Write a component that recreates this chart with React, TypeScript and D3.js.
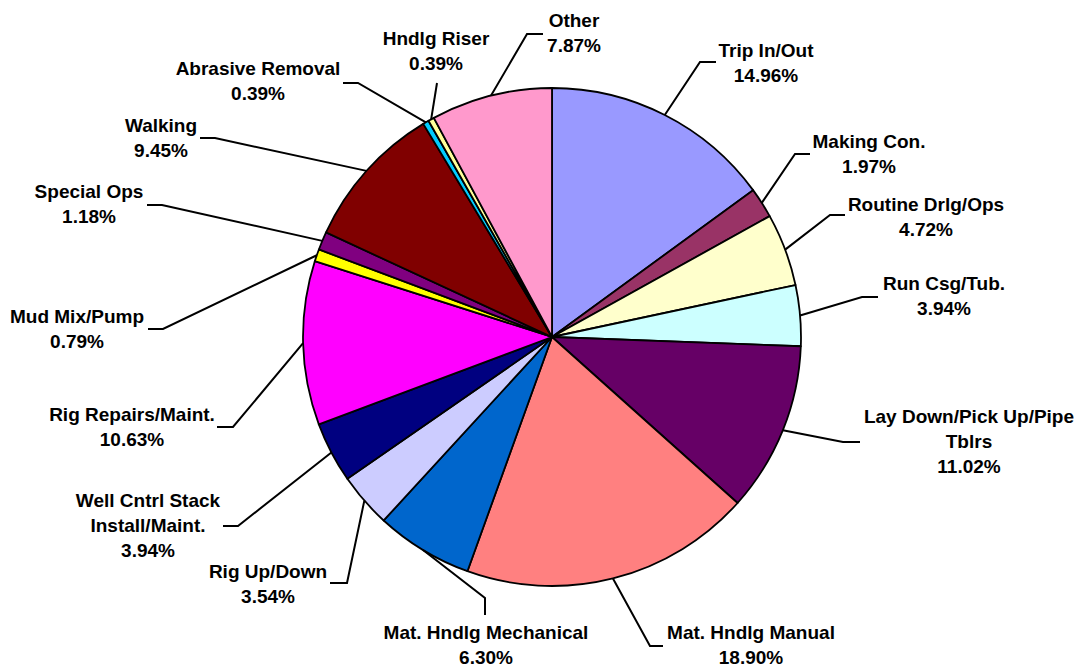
import React from 'react';
import * as d3 from 'd3';

// slice data, clockwise from 12 o'clock
const categories = [
  'Trip In/Out',
  'Making Con.',
  'Routine Drlg/Ops',
  'Run Csg/Tub.',
  'Lay Down/Pick Up/Pipe Tblrs',
  'Mat. Hndlg Manual',
  'Mat. Hndlg Mechanical',
  'Rig Up/Down',
  'Well Cntrl Stack Install/Maint.',
  'Rig Repairs/Maint.',
  'Mud Mix/Pump',
  'Special Ops',
  'Walking',
  'Abrasive Removal',
  'Hndlg Riser',
  'Other',
];
const values = [14.96, 1.97, 4.72, 3.94, 11.02, 18.9, 6.3, 3.54, 3.94, 10.63, 0.79, 1.18, 9.45, 0.39, 0.39, 7.87];
const colors = [
  '#9999FF', '#993366', '#FFFFCC', '#CCFFFF', '#660066', '#FF8080', '#0066CC', '#CCCCFF',
  '#000080', '#FF00FF', '#FFFF00', '#800080', '#800000', '#00CCFF', '#FFFF99', '#FF99CC',
];

// label lines as they wrap in the chart
const labelLines = [
  ['Trip In/Out'],
  ['Making Con.'],
  ['Routine Drlg/Ops'],
  ['Run Csg/Tub.'],
  ['Lay Down/Pick Up/Pipe', 'Tblrs'],
  ['Mat. Hndlg Manual'],
  ['Mat. Hndlg Mechanical'],
  ['Rig Up/Down'],
  ['Well Cntrl Stack', 'Install/Maint.'],
  ['Rig Repairs/Maint.'],
  ['Mud Mix/Pump'],
  ['Special Ops'],
  ['Walking'],
  ['Abrasive Removal'],
  ['Hndlg Riser'],
  ['Other'],
];

// label placement: text centre x, first baseline y, leader bend points
const labelPos = [
  { x: 766, y: 57, bends: [[700, 62], [716, 62]] },
  { x: 869, y: 148, bends: [[795, 154], [810, 154]] },
  { x: 926, y: 211, bends: [[830, 215], [845, 215]] },
  { x: 944, y: 290, bends: [[862, 297], [878, 297]] },
  { x: 969, y: 423, bends: [[843, 442], [860, 442]] },
  { x: 751, y: 639, bends: [[650, 646], [663, 646]] },
  { x: 486, y: 639, bends: [[485, 598], [485, 615]] },
  { x: 268, y: 578, bends: [[347, 583], [330, 583]] },
  { x: 148, y: 507, bends: [[238, 526], [223, 526]] },
  { x: 132, y: 421, bends: [[233, 427], [217, 427]] },
  { x: 77, y: 323, bends: [[163, 329], [148, 329]] },
  { x: 89, y: 198, bends: [[162, 205], [147, 205]] },
  { x: 161, y: 132, bends: [[215, 138], [200, 138]] },
  { x: 258, y: 75, bends: [[358, 83], [343, 83]] },
  { x: 436, y: 45, bends: [[437, 83]] },
  { x: 574, y: 27, bends: [[527, 34], [543, 34]] },
];

const WIDTH = 1079;
const HEIGHT = 667;
const CX = 552;
const CY = 337;
const R = 249;
const LINE_H = 25;

const PieChart: React.FC = () => {
  const data = categories.map((c, i) => ({ name: c, value: values[i], color: colors[i] }));
  const pie = d3.pie<{ name: string; value: number; color: string }>()
    .value(d => d.value)
    .sort(null);
  const arcs = pie(data);
  const arc = d3.arc<d3.PieArcDatum<{ name: string; value: number; color: string }>>()
    .innerRadius(0)
    .outerRadius(R);
  const line = d3.line();

  return (
    <svg
      width={WIDTH}
      height={HEIGHT}
      style={{ position: 'absolute', left: 0, top: 0, background: '#fff' }}
      fontFamily="'Liberation Sans', Arial, sans-serif"
    >
      <g transform={`translate(${CX},${CY})`}>
        {arcs.map((a, i) => (
          <path key={i} d={arc(a) || ''} fill={a.data.color} stroke="#000" strokeWidth={1.8} strokeLinejoin="round" />
        ))}
      </g>
      {arcs.map((a, i) => {
        const mid = (a.startAngle + a.endAngle) / 2;
        const sx = CX + R * Math.sin(mid);
        const sy = CY - R * Math.cos(mid);
        const pts = [[sx, sy], ...labelPos[i].bends] as [number, number][];
        return (
          <path key={'l' + i} d={line(pts) || ''} fill="none" stroke="#000" strokeWidth={2} />
        );
      })}
      {arcs.map((a, i) => {
        const lines = [...labelLines[i], `${a.data.value.toFixed(2)}%`];
        return (
          <text
            key={'t' + i}
            x={labelPos[i].x}
            y={labelPos[i].y}
            textAnchor="middle"
            fontSize={19}
            fontWeight="bold"
            fill="#000"
          >
            {lines.map((t, j) => (
              <tspan key={j} x={labelPos[i].x} dy={j === 0 ? 0 : LINE_H}>{t}</tspan>
            ))}
          </text>
        );
      })}
    </svg>
  );
};

export default function App() {
  return <PieChart />;
}
